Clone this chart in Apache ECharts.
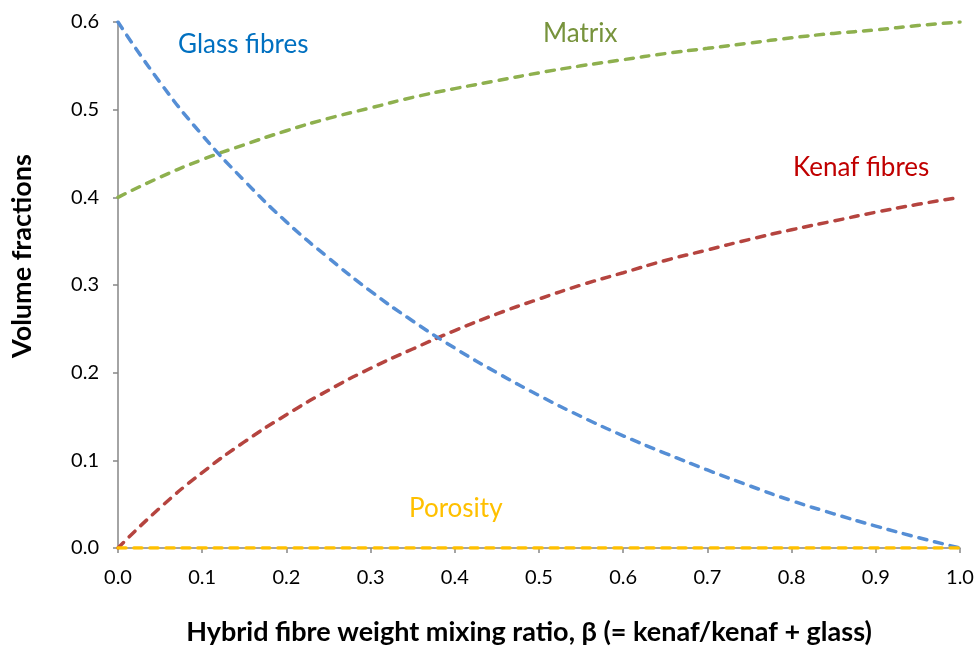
<!DOCTYPE html>
<html>
<head>
<meta charset="utf-8">
<script src="https://cdn.jsdelivr.net/npm/echarts@6/dist/echarts.min.js"></script>
<style>html,body{margin:0;padding:0;background:#fff}#c{width:977px;height:646px}</style>
</head>
<body>
<div id="c"></div>
<script>
const beta = [0,0.05,0.1,0.15,0.2,0.25,0.3,0.35,0.4,0.45,0.5,0.55,0.6,0.65,0.7,0.75,0.8,0.85,0.9,0.95,1.0];
const glass = [0.600,0.531,0.471,0.419,0.372,0.331,0.293,0.259,0.228,0.200,0.174,0.150,0.128,0.108,0.089,0.071,0.054,0.039,0.025,0.012,0.000];
const kenaf = [0.000,0.046,0.086,0.121,0.152,0.180,0.205,0.227,0.248,0.267,0.284,0.300,0.314,0.328,0.340,0.352,0.363,0.373,0.383,0.392,0.400];
const matrix = [0.400,0.423,0.443,0.460,0.476,0.490,0.502,0.514,0.524,0.533,0.542,0.550,0.557,0.564,0.570,0.576,0.582,0.587,0.591,0.596,0.600];
const porosity = [0,0,0,0,0,0,0,0,0,0,0,0,0,0,0,0,0,0,0,0,0];
const xTitle = 'Hybrid fibre weight mixing ratio, β (= kenaf/kenaf + glass)';
const yTitle = 'Volume fractions';

const pairs = ys => beta.map((b,i)=>[b, ys[i]]);
const FONT = 'Lato';
const dash = [8,8];
function line(name, ys, color, z){
  return {name, type:'line', data:pairs(ys), smooth:true, showSymbol:false, symbol:'none', z,
    lineStyle:{color, width:3.5, type:dash, cap:'round'}};
}
const chart = echarts.init(document.getElementById('c'), null, {renderer:'canvas'});
chart.setOption({
  animation:false,
  backgroundColor:'#ffffff',
  grid:{left:118, right:17, top:22, bottom:98, containLabel:false, outerBoundsMode:'none'},
  xAxis:{type:'value', min:0, max:1, interval:0.1,
    name:xTitle, nameLocation:'middle', nameGap:71,
    nameTextStyle:{fontFamily:FONT, fontWeight:'bold', fontSize:27, color:'#000', padding:[0,20,0,0]},
    axisLine:{show:true, onZero:false, lineStyle:{color:'#868686', width:1.5}},
    axisTick:{show:true, length:5, lineStyle:{color:'#868686', width:1.5}},
    axisLabel:{fontFamily:FONT, fontSize:20, color:'#000', margin:20, formatter:v=>v.toFixed(1)},
    splitLine:{show:false}},
  yAxis:{type:'value', min:0, max:0.6, interval:0.1,
    name:yTitle, nameLocation:'middle', nameGap:82, nameRotate:90,
    nameTextStyle:{fontFamily:FONT, fontWeight:'bold', fontSize:27, color:'#000', padding:[0,0,0,58]},
    axisLine:{show:true, lineStyle:{color:'#868686', width:1.5}},
    axisTick:{show:true, length:5, lineStyle:{color:'#868686', width:1.5}},
    axisLabel:{fontFamily:FONT, fontSize:20, color:'#000', margin:19, formatter:v=>v.toFixed(1)},
    splitLine:{show:false}},
  series:[
    line('Matrix', matrix, '#8EB04E', 3),
    line('Kenaf fibres', kenaf, '#B5443F', 4),
    line('Glass fibres', glass, '#558ED5', 5),
    line('Porosity', porosity, '#FFC000', 6)
  ],
  graphic:[
    {type:'text', left:178, top:32, style:{text:'Glass fibres', fill:'#0070C0', font:'26px '+FONT}},
    {type:'text', left:543, top:21, style:{text:'Matrix', fill:'#77933C', font:'26px '+FONT}},
    {type:'text', left:793, top:155, style:{text:'Kenaf fibres', fill:'#C00000', font:'26px '+FONT}},
    {type:'text', left:409, top:496, style:{text:'Porosity', fill:'#FFC000', font:'26px '+FONT}}
  ]
});
</script>
</body>
</html>
